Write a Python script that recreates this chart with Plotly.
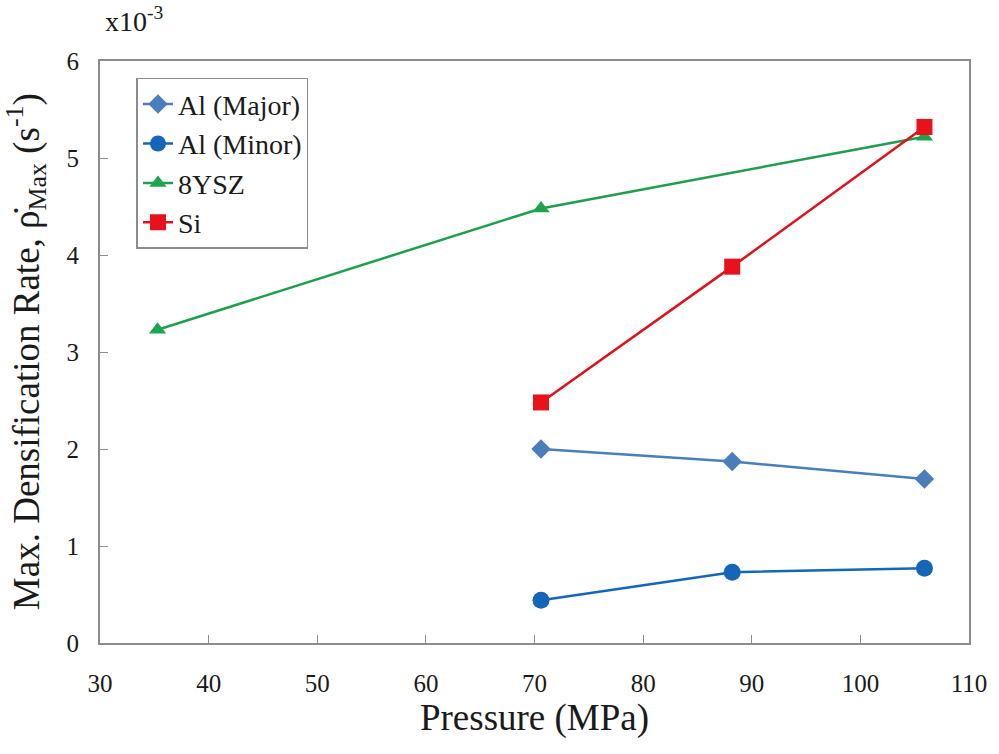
import plotly.graph_objects as go

pressure_al = [70.6, 88.2, 105.9]
al_major = [2.00, 1.87, 1.69]
al_minor = [0.44, 0.73, 0.77]
pressure_ysz = [35.3, 70.6, 105.9]
ysz = [3.23, 4.48, 5.22]
pressure_si = [70.6, 88.2, 105.9]
si = [2.48, 3.88, 5.32]

x_ticks = [30, 40, 50, 60, 70, 80, 90, 100, 110]
y_ticks = [0, 1, 2, 3, 4, 5, 6]

FONT = "Liberation Serif, Times New Roman, serif"
TXT = "#1a1a1a"

fig = go.Figure()
fig.add_trace(go.Scatter(x=pressure_al, y=al_major, name="Al (Major)", mode="lines+markers",
                         line=dict(color="#4A7EBB", width=2.5),
                         marker=dict(symbol="diamond", size=15, color="#4A7EBB")))
fig.add_trace(go.Scatter(x=pressure_al, y=al_minor, name="Al (Minor)", mode="lines+markers",
                         line=dict(color="#1566B8", width=2.5),
                         marker=dict(symbol="circle", size=17, color="#1566B8")))
fig.add_trace(go.Scatter(x=pressure_ysz, y=ysz, name="8YSZ", mode="lines+markers",
                         line=dict(color="#1E9E4E", width=2.5),
                         marker=dict(symbol="triangle-up", size=15, color="#1EA44C")))
fig.add_trace(go.Scatter(x=pressure_si, y=si, name="Si", mode="lines+markers",
                         line=dict(color="#D9141C", width=2.5),
                         marker=dict(symbol="square", size=16, color="#E8121B")))

axis_common = dict(showgrid=False, zeroline=False, showline=True, linecolor="#8C8C8C",
                   linewidth=2, mirror=True, ticks="inside", ticklen=8, tickcolor="#8C8C8C",
                   tickwidth=1, tickfont=dict(family=FONT, size=25, color=TXT))

fig.update_xaxes(range=[30, 110], tickvals=x_ticks, ticklabelstandoff=17,
                 title=dict(text="Pressure (MPa)", font=dict(family=FONT, size=37, color=TXT), standoff=3),
                 **axis_common)
fig.update_yaxes(range=[0, 6], tickvals=y_ticks, ticklabelstandoff=14, **axis_common)

fig.add_annotation(x=-0.085, y=0.5, xref="paper", yref="paper",
                   text="Max. Densification Rate, ρ̇<sub>Max</sub> (s<sup>-1</sup>)",
                   textangle=-90, showarrow=False, xanchor="center", yanchor="middle",
                   font=dict(family=FONT, size=37, color=TXT))

fig.add_annotation(x=0.04, y=1.038, xref="paper", yref="paper", text="x10<sup>-3</sup>",
                   showarrow=False, xanchor="center", yanchor="bottom",
                   font=dict(family=FONT, size=28, color=TXT))

fig.update_layout(
    width=999, height=754,
    margin=dict(l=100, r=26, t=61, b=111),
    paper_bgcolor="white", plot_bgcolor="white",
    font=dict(family=FONT, color=TXT),
    legend=dict(x=0.042, y=0.971, xanchor="left", yanchor="top",
                bordercolor="#8C8C8C", borderwidth=1.5, bgcolor="white",
                font=dict(family=FONT, size=28, color=TXT),
                itemwidth=30, tracegroupgap=0),
)

fig.write_html("out.html")
